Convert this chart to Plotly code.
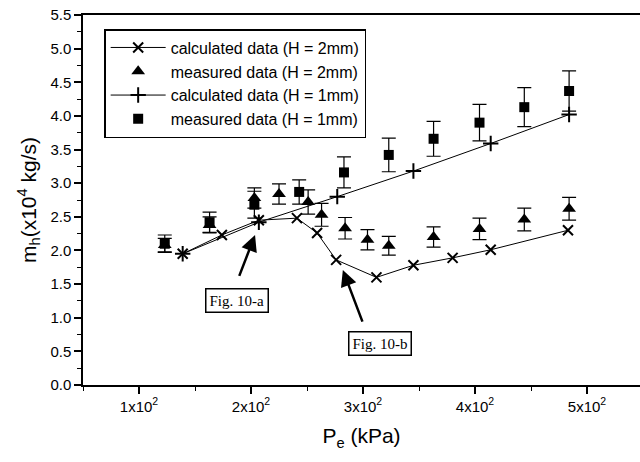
import plotly.graph_objects as go

# calculated data (H = 2mm)
x_calc2 = [139, 174, 207, 241, 259, 276, 312, 345, 380, 414, 483]
y_calc2 = [1.95, 2.23, 2.45, 2.48, 2.26, 1.86, 1.60, 1.78, 1.89, 2.01, 2.30]

# measured data (H = 2mm)
x_meas2 = [123, 163, 203, 225, 251, 263, 284, 304, 323, 363, 404, 444, 484]
y_meas2 = [2.08, 2.38, 2.78, 2.84, 2.72, 2.53, 2.33, 2.16, 2.07, 2.20, 2.32, 2.46, 2.62]
e_meas2 = [0.10, 0.12, 0.15, 0.15, 0.18, 0.17, 0.16, 0.15, 0.14, 0.15, 0.16, 0.17, 0.17]

# calculated data (H = 1mm)
x_calc1 = [139, 207, 277, 345, 414, 484]
y_calc1 = [1.95, 2.42, 2.80, 3.18, 3.59, 4.02]

# measured data (H = 1mm)
x_meas1 = [123, 163, 203, 243, 283, 323, 363, 404, 444, 484]
y_meas1 = [2.10, 2.42, 2.68, 2.87, 3.16, 3.42, 3.66, 3.90, 4.13, 4.37]
e_meas1 = [0.13, 0.15, 0.20, 0.18, 0.23, 0.25, 0.26, 0.27, 0.29, 0.30]

x_tickvals = [100, 200, 300, 400, 500]
x_ticktext = ["1x10<sup>2</sup>", "2x10<sup>2</sup>", "3x10<sup>2</sup>",
              "4x10<sup>2</sup>", "5x10<sup>2</sup>"]

FONT = "Liberation Sans, Arial, sans-serif"
SERIF = "Liberation Serif, Times New Roman, serif"

fig = go.Figure()

fig.add_trace(go.Scatter(
    x=x_calc2, y=y_calc2, mode="lines+markers",
    name="calculated data (H = 2mm)",
    line=dict(color="black", width=1),
    marker=dict(symbol="x-thin", size=10, color="black",
                line=dict(color="black", width=2)),
))
fig.add_trace(go.Scatter(
    x=x_meas2, y=y_meas2, mode="markers",
    name="measured data (H = 2mm)",
    marker=dict(symbol="triangle-up", size=12, color="black"),
    error_y=dict(type="data", array=e_meas2, visible=True,
                 color="black", thickness=1.2, width=7),
))
fig.add_trace(go.Scatter(
    x=x_calc1, y=y_calc1, mode="lines+markers",
    name="calculated data (H = 1mm)",
    line=dict(color="black", width=1),
    marker=dict(symbol="cross-thin", size=11, color="black",
                line=dict(color="black", width=2)),
))
fig.add_trace(go.Scatter(
    x=x_meas1, y=y_meas1, mode="markers",
    name="measured data (H = 1mm)",
    marker=dict(symbol="square", size=10, color="black"),
    error_y=dict(type="data", array=e_meas1, visible=True,
                 color="black", thickness=1.2, width=7),
))

# arrows
fig.add_annotation(x=203.6, y=2.23, ax=189, ay=1.6, axref="x", ayref="y",
                   xref="x", yref="y", text="", showarrow=True,
                   arrowhead=2, arrowsize=1.3, arrowwidth=2.5,
                   arrowcolor="black", standoff=0, startstandoff=0)
fig.add_annotation(x=282, y=1.71, ax=300, ay=0.92, axref="x", ayref="y",
                   xref="x", yref="y", text="", showarrow=True,
                   arrowhead=2, arrowsize=1.3, arrowwidth=2.5,
                   arrowcolor="black", standoff=0, startstandoff=0)
# boxes
fig.add_annotation(x=187.5, y=1.26, xref="x", yref="y", text="Fig. 10-a",
                   showarrow=False, font=dict(family=SERIF, size=15, color="black"),
                   bordercolor="black", borderwidth=1.5, borderpad=3, bgcolor="white")
fig.add_annotation(x=315, y=0.62, xref="x", yref="y", text="Fig. 10-b",
                   showarrow=False, font=dict(family=SERIF, size=15, color="black"),
                   bordercolor="black", borderwidth=1.5, borderpad=3, bgcolor="white")

fig.update_layout(
    width=640, height=462,
    margin=dict(l=83, r=0, t=15, b=77),
    paper_bgcolor="white", plot_bgcolor="white",
    font=dict(family=FONT, size=15, color="black"),
    showlegend=True,
    legend=dict(x=0.038, y=0.962, xanchor="left", yanchor="top",
                bordercolor="black", borderwidth=1.5, bgcolor="white",
                font=dict(family=FONT, size=16, color="black"),
                itemwidth=55, tracegroupgap=0),
)
fig.update_xaxes(
    range=[50, 547.3], tickmode="array", tickvals=x_tickvals, ticktext=x_ticktext,
    showgrid=False, zeroline=False, showline=True, linecolor="black", linewidth=1.5,
    mirror=True, ticks="outside", ticklen=7, tickwidth=1.5, tickcolor="black",
    minor=dict(tickmode="linear", tick0=50, dtick=100, ticks="outside", ticklen=4,
               tickcolor="black", tickwidth=1),
    tickfont=dict(family=FONT, size=15),
    title=dict(text="P<sub>e</sub> (kPa)", font=dict(family=FONT, size=21), standoff=15),
)
fig.update_yaxes(
    range=[0, 5.5], dtick=0.5, tick0=0, tickformat=".1f",
    showgrid=False, zeroline=False, showline=True, linecolor="black", linewidth=1.5,
    ticks="outside", ticklen=7, tickwidth=1.5, tickcolor="black",
    minor=dict(tickmode="linear", tick0=0.25, dtick=0.5, ticks="outside", ticklen=4,
               tickcolor="black", tickwidth=1),
    tickfont=dict(family=FONT, size=15),
    title=dict(text="m<sub>h</sub>(x10<sup>4</sup> kg/s)", font=dict(family=FONT, size=21),
               standoff=8),
)

fig.write_html("out.html")
